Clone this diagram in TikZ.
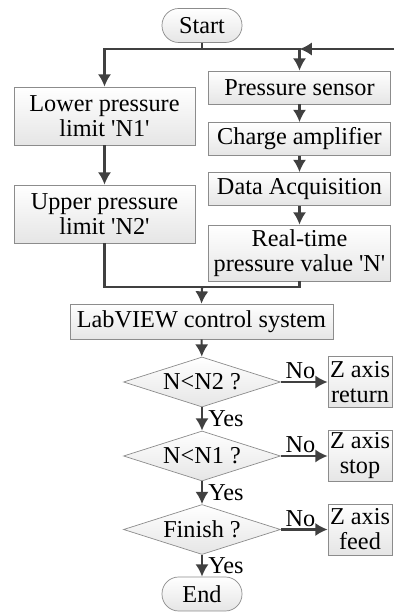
\documentclass[tikz,border=0pt]{standalone}
\usepackage{fontspec}
\setmainfont{Liberation Serif}
\usetikzlibrary{arrows.meta,shapes.geometric,positioning}
\tikzset{>={Latex[length=7pt,width=7.5pt]}}
\colorlet{boxline}{black!45}
\colorlet{arrowgray}{black!75}
\newcommand{\flowfont}{\fontsize{13.8}{14.2}\selectfont}

\begin{document}
\begin{tikzpicture}[
    box/.style={draw=boxline, rectangle, top color=white, bottom color=black!10, inner sep=0pt, align=center, font=\flowfont},
    term/.style={box, rounded corners=9.5pt, minimum width=1.6cm, minimum height=0.68cm},
    step box/.style={box, minimum width=3.64cm, minimum height=0.66cm},
    limit box/.style={box, minimum width=3.62cm, minimum height=1.16cm},
    zbox/.style={box, minimum width=1.28cm, minimum height=1.02cm},
    decision/.style={box, diamond, aspect=3.14, minimum width=3.14cm, minimum height=1cm},
    link/.style={draw=arrowgray, line width=1.2pt},
    flow/.style={link, ->},
    lbl/.style={font=\flowfont, inner sep=1pt}
  ]
    \useasboundingbox (0,0) rectangle (7.88,12.24);
    \node [term] (start) at (4.04,11.73) {Start};
    \node [limit box] (lower) at (2.09,9.92) {Lower pressure\\limit \textquotesingle N1\textquotesingle};
    \node [limit box] (upper) at (2.09,7.96) {Upper pressure\\limit \textquotesingle N2\textquotesingle};
    \node [step box] (sensor) at (5.99,10.49) {Pressure sensor};
    \node [step box] (amp) at (5.99,9.46) {Charge amplifier};
    \node [step box] (daq) at (5.99,8.46) {Data Acquisition};
    \node [step box, minimum height=1.12cm] (realtime) at (5.99,7.18) {Real-time\\pressure value \textquotesingle N\textquotesingle};
    \node [box, minimum width=5.26cm, minimum height=0.7cm] (labview) at (4.03,5.81) {LabVIEW control system};
    \node [decision] (d1) at (4.04,4.60) {N<N2 ?};
    \node [decision] (d2) at (4.04,3.12) {N<N1 ?};
    \node [decision] (d3) at (4.04,1.65) {Finish ?};
    \node [zbox] (zreturn) at (7.2,4.60) {Z axis\\return};
    \node [zbox] (zstop) at (7.2,3.12) {Z axis\\stop};
    \node [zbox] (zfeed) at (7.2,1.65) {Z axis\\feed};
    \node [term] (stop) at (4.04,0.36) {End};

    \coordinate (split) at (4.04,11.26);
    \coordinate (loop) at (7.88,11.26);
    \coordinate (merge) at (4.04,6.50);

    % start branches to the limits and the sensor chain
    \draw [link] (start.south) -- (split);
    \draw [flow] (split) -| (lower.north);
    \draw [flow] (split) -| (sensor.north);
    \draw [flow] (loop) -- (sensor.north |- split);
    \draw [flow] (lower) -- (upper);
    \draw [flow] (sensor) -- (amp);
    \draw [flow] (amp) -- (daq);
    \draw [flow] (daq) -- (realtime);

    % both branches meet at the control system
    \draw [link] (upper.south) |- (merge);
    \draw [link] (realtime.south) |- (merge);
    \draw [flow] (merge) -- (labview.north);
    \draw [flow] (labview) -- (d1);

    % decisions
    \draw [flow] (d1) -- node [lbl, right, xshift=2pt] {Yes} (d2);
    \draw [flow] (d2) -- node [lbl, right, xshift=2pt] {Yes} (d3);
    \draw [flow] (d3) -- node [lbl, right, xshift=2pt] {Yes} (stop);
    \draw [flow] (d1.east) -- node [lbl, above, pos=0.42] {No} (zreturn);
    \draw [flow] (d2.east) -- node [lbl, above, pos=0.42] {No} (zstop);
    \draw [flow] (d3.east) -- node [lbl, above, pos=0.42] {No} (zfeed);
  \end{tikzpicture}
\end{document}
